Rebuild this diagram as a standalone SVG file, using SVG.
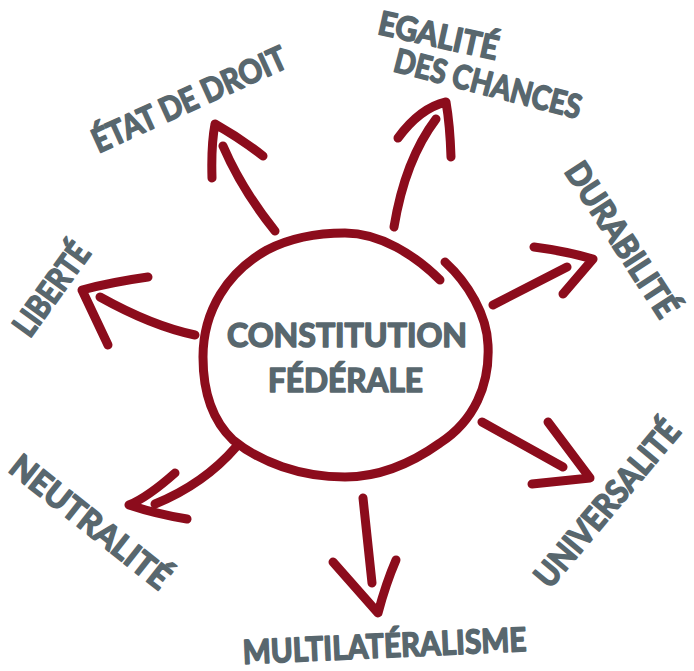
<svg xmlns="http://www.w3.org/2000/svg" width="694" height="671" viewBox="0 0 694 671">
<style>
.ln{fill:none;stroke:#8c0c1c;stroke-width:9;stroke-linecap:round;stroke-linejoin:round}
.lb{font-family:"Lato","Open Sans",sans-serif;font-weight:700;font-size:33px;fill:#58676e;stroke:#58676e;stroke-width:1.6;stroke-linejoin:round;text-anchor:middle}
</style>
<rect width="694" height="671" fill="#ffffff"/>
<g id="center">
<path class="ln" d="M445,262 C468,283 487,315 488,345 C490,385 474,421 440,443 C412,463 380,477 345,477 C300,477 260,462 233,440 C212,420 203,390 203,357 C203,310 228,272 267,250 C290,238 318,233 345,233 C380,233 415,255 440,280"/>
<text class="lb" x="347" y="347" textLength="240" lengthAdjust="spacingAndGlyphs">CONSTITUTION</text>
<text class="lb" x="345.5" y="392" textLength="155" lengthAdjust="spacingAndGlyphs">FÉDÉRALE</text>
</g>
<g id="connectors">
<path class="ln" d="M275,231 Q242,190 223,146"/>
<path class="ln" d="M212,178 Q211,145 215,124 Q240,138 263,156"/>
<path class="ln" d="M394,227 Q405,160 436,119"/>
<path class="ln" d="M398,138 Q420,108 446,102 Q450,125 451,157"/>
<path class="ln" d="M493,305 L567,267"/>
<path class="ln" d="M534,247 Q565,251 593,259 L563,294"/>
<path class="ln" d="M195,335 Q152,326 100,297"/>
<path class="ln" d="M148,277 Q112,282 82,290 L108,345"/>
<path class="ln" d="M236,447 Q204,484 155,504"/>
<path class="ln" d="M175,473 Q148,497 129,505 Q156,514 187,519"/>
<path class="ln" d="M363,498 L372,583"/>
<path class="ln" d="M333,562 L378,613 Q386,583 396,560"/>
<path class="ln" d="M482,422 L563,467"/>
<path class="ln" d="M548,422 L590,478 L532,484"/>
</g>
<g id="etat-de-droit"><text class="lb" transform="translate(194,110) rotate(-24.4)" textLength="210" lengthAdjust="spacingAndGlyphs">ÉTAT DE DROIT</text></g>
<g id="egalite"><text class="lb" transform="translate(436,47) rotate(12.5)" textLength="122" lengthAdjust="spacingAndGlyphs">EGALITÉ</text>
<text class="lb" transform="translate(485,95) rotate(14.5)" textLength="192" lengthAdjust="spacingAndGlyphs">DES CHANCES</text></g>
<g id="durabilite"><text class="lb" transform="translate(612,246) rotate(57)" textLength="178" lengthAdjust="spacingAndGlyphs">DURABILITÉ</text></g>
<g id="liberte"><text class="lb" transform="translate(61,296) rotate(-54)" textLength="106" lengthAdjust="spacingAndGlyphs">LIBERTÉ</text></g>
<g id="neutralite"><text class="lb" transform="translate(83,531) rotate(38.4)" textLength="194" lengthAdjust="spacingAndGlyphs">NEUTRALITÉ</text></g>
<g id="multilateralisme"><text class="lb" transform="translate(385,657.5) rotate(-2.6)" textLength="284" lengthAdjust="spacingAndGlyphs">MULTILATÉRALISME</text></g>
<g id="universalite"><text class="lb" transform="translate(616,511) rotate(-50)" textLength="206" lengthAdjust="spacingAndGlyphs">UNIVERSALITÉ</text></g>
</svg>
